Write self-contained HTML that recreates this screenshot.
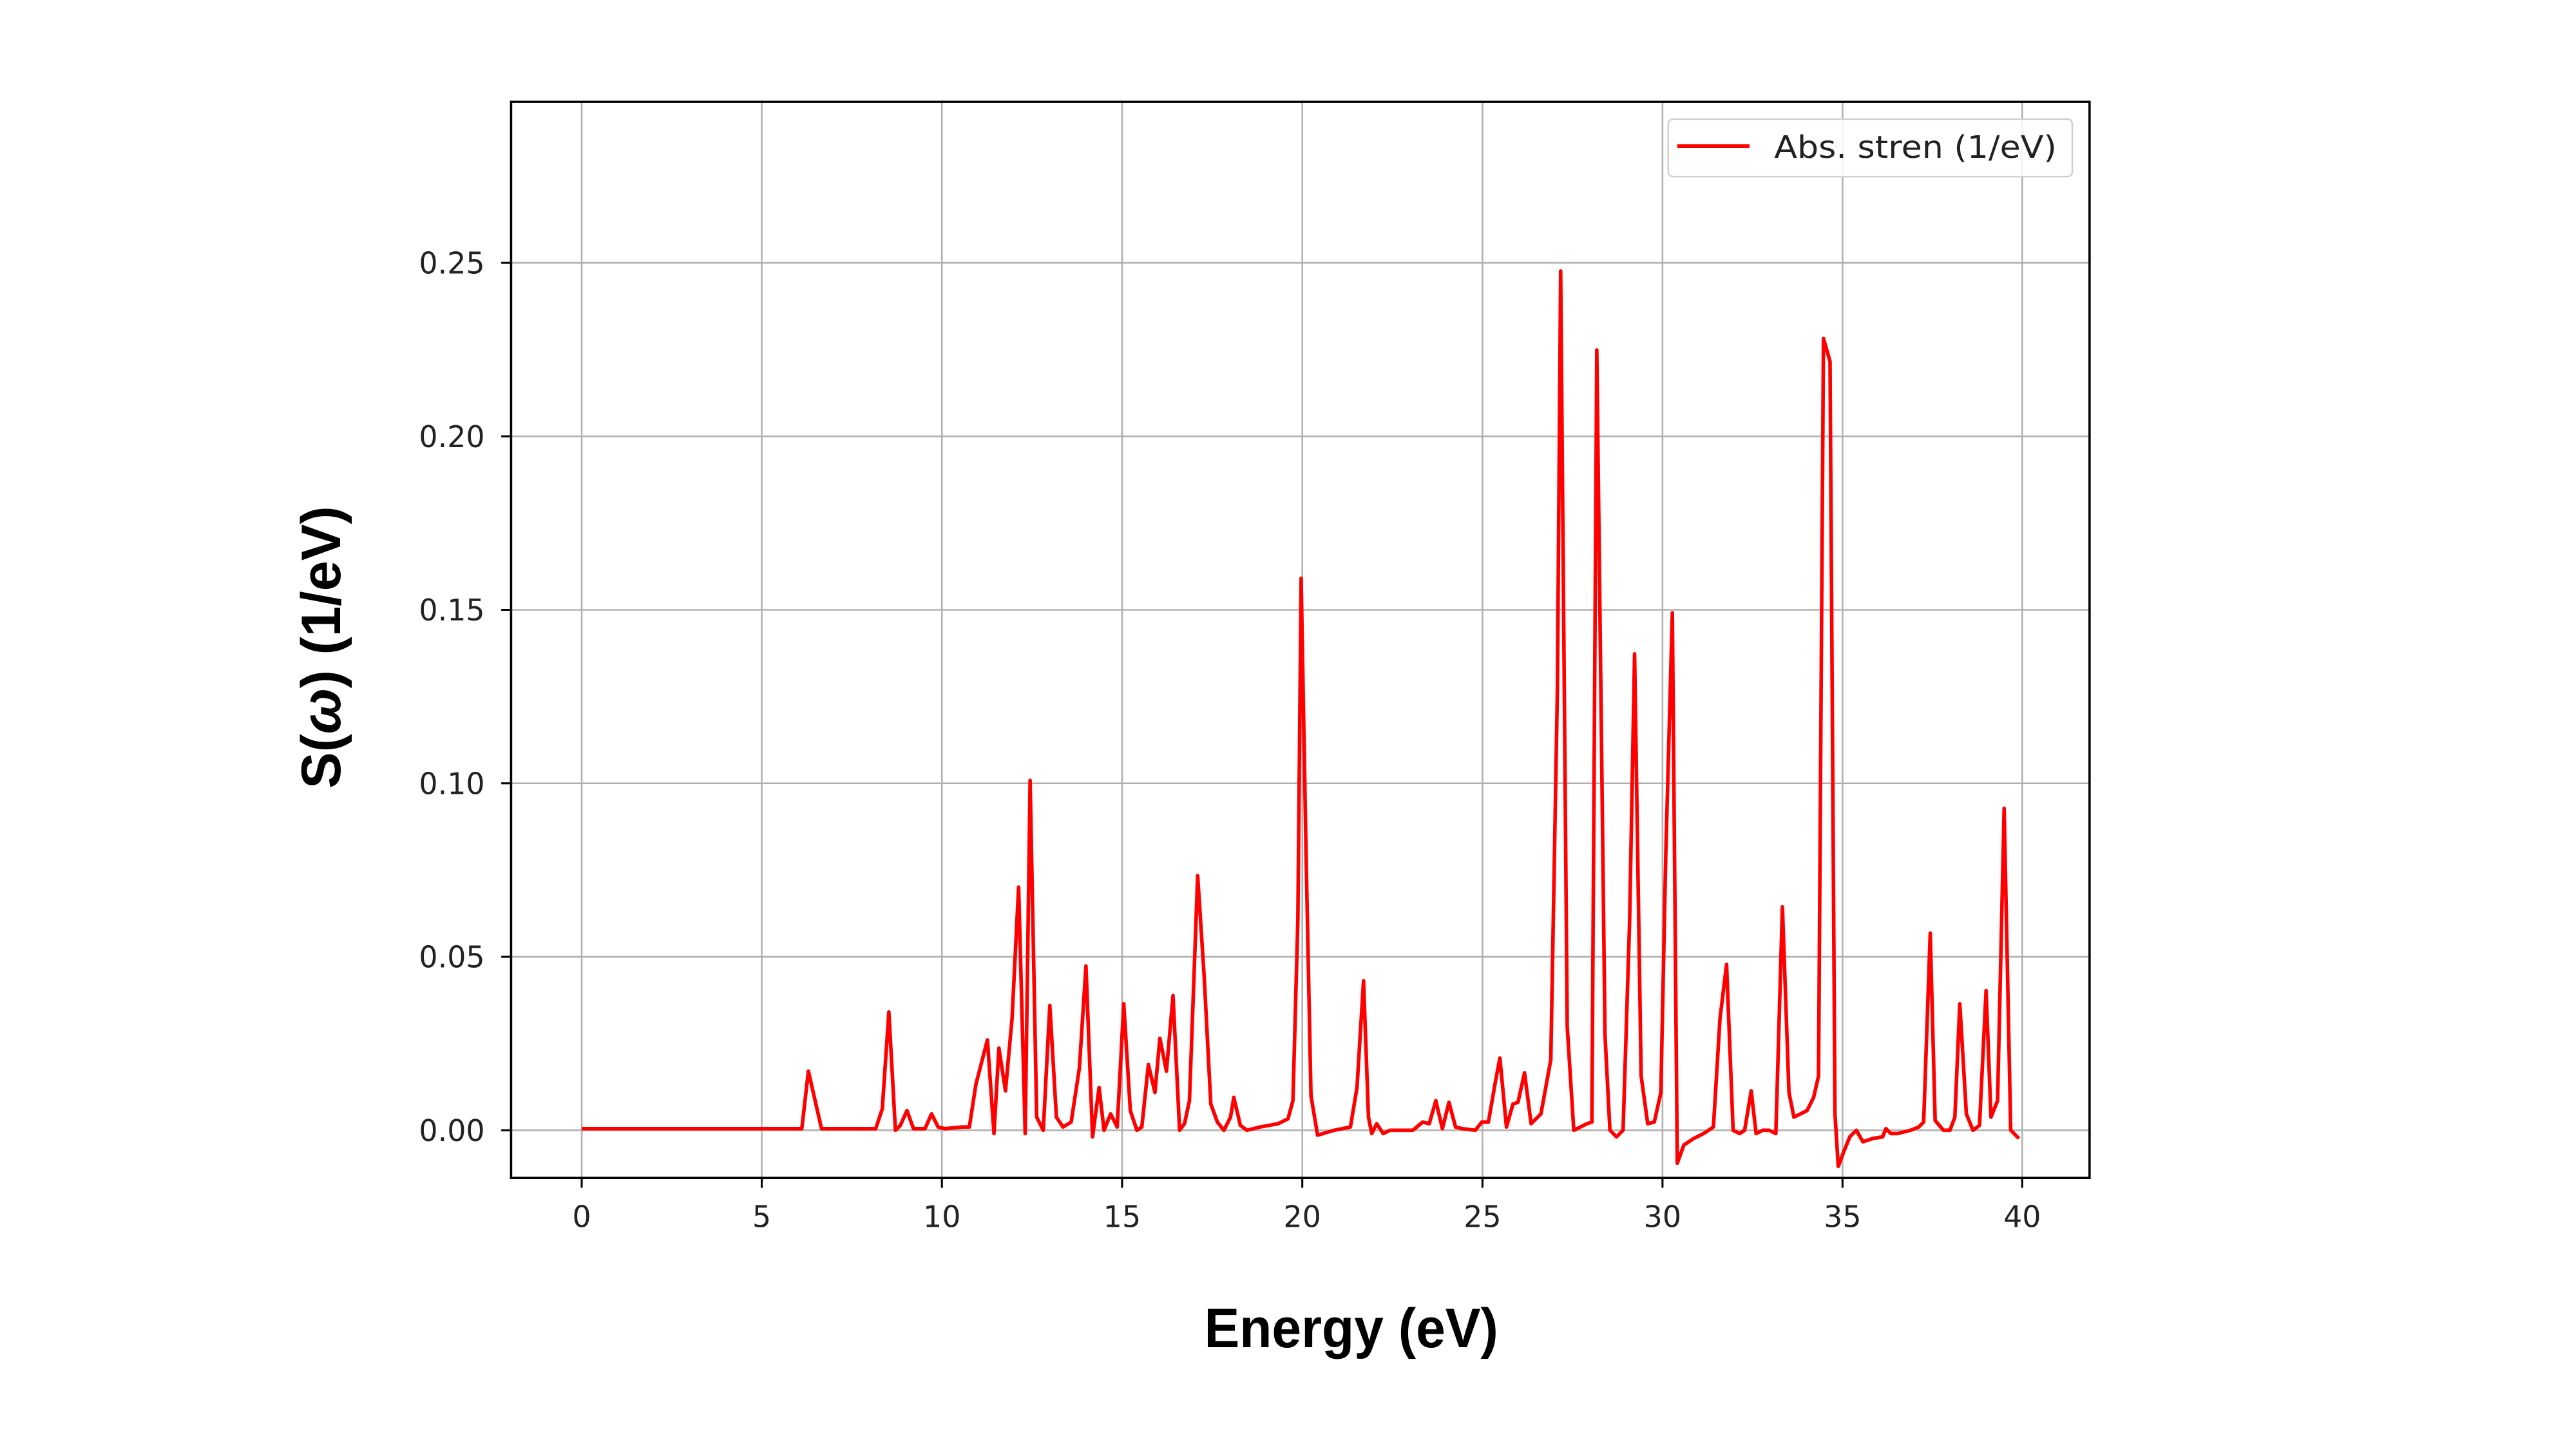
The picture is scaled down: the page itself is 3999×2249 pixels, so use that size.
<!DOCTYPE html>
<html><head><meta charset="utf-8"><style>html,body{margin:0;padding:0;background:#fff}svg{display:block}</style></head>
<body>
<svg width="3999" height="2249" viewBox="0 0 1568 882" xmlns="http://www.w3.org/2000/svg">
<rect width="1568" height="882" fill="#fff"/>
<g stroke="#b0b0b0" stroke-width="1">
<line x1="354" y1="62" x2="354" y2="717"/><line x1="463.6" y1="62" x2="463.6" y2="717"/><line x1="573.3" y1="62" x2="573.3" y2="717"/><line x1="683" y1="62" x2="683" y2="717"/><line x1="792.7" y1="62" x2="792.7" y2="717"/><line x1="902.4" y1="62" x2="902.4" y2="717"/><line x1="1012" y1="62" x2="1012" y2="717"/><line x1="1121.6" y1="62" x2="1121.6" y2="717"/><line x1="1231" y1="62" x2="1231" y2="717"/>
<line x1="311" y1="688" x2="1272" y2="688"/><line x1="311" y1="582.4" x2="1272" y2="582.4"/><line x1="311" y1="476.8" x2="1272" y2="476.8"/><line x1="311" y1="371.2" x2="1272" y2="371.2"/><line x1="311" y1="265.6" x2="1272" y2="265.6"/><line x1="311" y1="160" x2="1272" y2="160"/>
</g>
<polyline fill="none" stroke="#ff0000" stroke-width="2.2" stroke-linejoin="round" points="354,687 488,687 492,652 500,687 533,687 537,675 541,616 545,688 548,685 552,676 556,687 563,687 567,678 571,686 575,687 586,686 590,686 594,660 601,633 605,690 608,638 612,664 616,620 620,540 624,690 627,475 631,680 635,688 639,612 643,680 647,686 652,683 657,650 661,588 665,692 669,662 672,688 676,678 680,686 684,611 688,676 692,688 695,686 699,648 703,665 706,632 710,652 714,606 718,688 721,684 724,670 729,533 733,595 737,672 741,683 745,688 749,680 751,668 755,685 759,688 767,686 778,684 784,681 787,670 790,560 792,352 795,520 798,667 802,691 812,688 822,686 826,662 830,597 833,680 835,690 838,684 842,690 846,688 860,688 866,683 870,684 874,670 878,687 882,671 886,686 890,687 898,688 902,683 906,683 910,660 913,644 917,686 921,672 924,671 928,653 932,684 938,678 944,645 948,420 950,165 954,625 958,688 966,684 969,683 972,213 977,630 980,688 984,692 988,688 992,560 995,398 999,655 1003,684 1007,683 1011,665 1014,520 1018,373 1021,708 1025,697 1031,693 1037,690 1043,686 1047,620 1051,587 1055,688 1059,690 1062,688 1066,664 1069,690 1073,688 1077,688 1081,690 1085,552 1089,665 1092,680 1096,678 1100,676 1104,668 1107,655 1110,206 1114,220 1117,678 1119,710 1122,702 1126,692 1130,688 1134,695 1140,693 1146,692 1148,687 1151,690 1155,690 1163,688 1168,686 1171,683 1175,568 1178,682 1183,688 1187,688 1190,680 1193,611 1197,678 1201,688 1205,685 1209,603 1212,680 1216,670 1220,492 1224,688 1229,693"/>
<rect x="311" y="62" width="961" height="655" fill="none" stroke="#000" stroke-width="1.4"/>
<g stroke="#000" stroke-width="1.2">
<line x1="354" y1="717" x2="354" y2="723"/><line x1="463.6" y1="717" x2="463.6" y2="723"/><line x1="573.3" y1="717" x2="573.3" y2="723"/><line x1="683" y1="717" x2="683" y2="723"/><line x1="792.7" y1="717" x2="792.7" y2="723"/><line x1="902.4" y1="717" x2="902.4" y2="723"/><line x1="1012" y1="717" x2="1012" y2="723"/><line x1="1121.6" y1="717" x2="1121.6" y2="723"/><line x1="1231" y1="717" x2="1231" y2="723"/>
<line x1="305" y1="688" x2="311" y2="688"/><line x1="305" y1="582.4" x2="311" y2="582.4"/><line x1="305" y1="476.8" x2="311" y2="476.8"/><line x1="305" y1="371.2" x2="311" y2="371.2"/><line x1="305" y1="265.6" x2="311" y2="265.6"/><line x1="305" y1="160" x2="311" y2="160"/>
</g>
<g font-family="DejaVu Sans, Liberation Sans, sans-serif" font-size="18" fill="#222" text-anchor="middle">
<text x="354" y="747">0</text><text x="463.6" y="747">5</text><text x="573.3" y="747">10</text><text x="683" y="747">15</text><text x="792.7" y="747">20</text><text x="902.4" y="747">25</text><text x="1012" y="747">30</text><text x="1121.6" y="747">35</text><text x="1231" y="747">40</text>
</g>
<g font-family="DejaVu Sans, Liberation Sans, sans-serif" font-size="18" fill="#222" text-anchor="end">
<text x="295" y="694.5">0.00</text><text x="295" y="588.9">0.05</text><text x="295" y="483.3">0.10</text><text x="295" y="377.7">0.15</text><text x="295" y="272.1">0.20</text><text x="295" y="166.5">0.25</text>
</g>
<rect x="1015.5" y="72.5" width="246" height="35" rx="3" fill="#fff" fill-opacity="0.85" stroke="#d0d0d0" stroke-width="1"/>
<line x1="1021" y1="89" x2="1065" y2="89" stroke="#ff0000" stroke-width="2.4"/>
<text x="1080" y="96" font-family="DejaVu Sans, Liberation Sans, sans-serif" font-size="19" fill="#222" textLength="172" lengthAdjust="spacingAndGlyphs">Abs. stren (1/eV)</text>
<text x="733" y="820" font-family="Liberation Sans, sans-serif" font-weight="bold" font-size="34" fill="#000" textLength="179" lengthAdjust="spacingAndGlyphs">Energy (eV)</text>
<text transform="translate(207,480) rotate(-90)" x="0" y="0" font-family="Liberation Sans, sans-serif" font-weight="bold" font-size="34" fill="#000" textLength="172" lengthAdjust="spacingAndGlyphs">S(<tspan font-style="italic">ω</tspan>) (1/eV)</text>
</svg>
</body></html>
